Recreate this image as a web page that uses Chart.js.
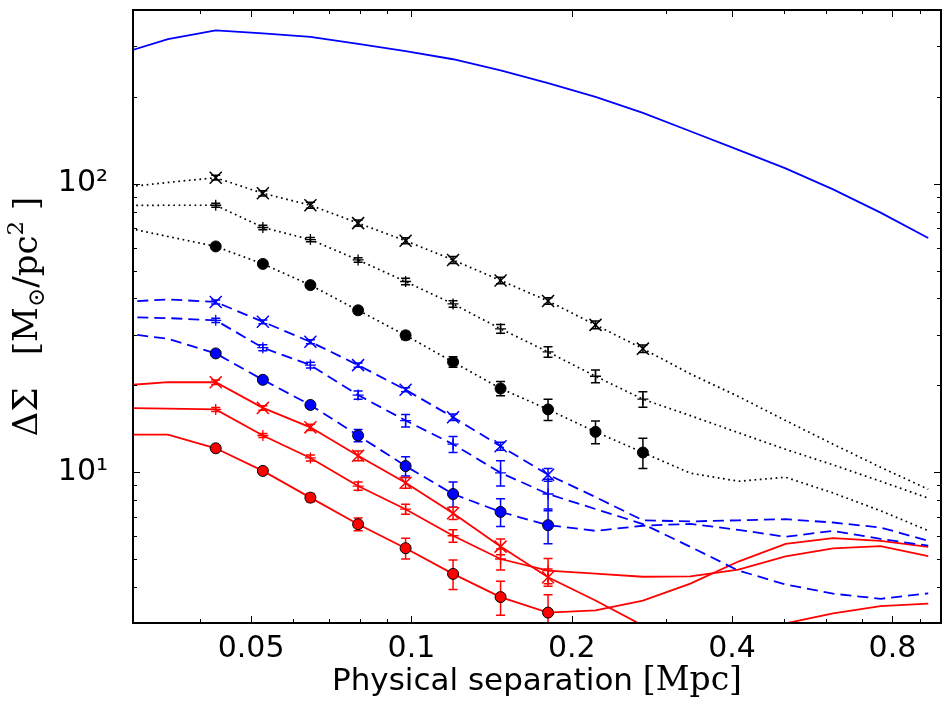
<!DOCTYPE html>
<html>
<head>
<meta charset="utf-8">
<script src="https://cdn.jsdelivr.net/npm/chart.js@4.4.1/dist/chart.umd.min.js"></script>
<style>
  body { margin: 0; background: #fff; }
</style>
</head>
<body>
<canvas id="grafico" width="951" height="702"></canvas>
<script>
// separation grid [Mpc] (model curves); markers sit on points 2..11
const separacao = [0.0284, 0.0349, 0.0429, 0.0526, 0.0646, 0.0794, 0.0975, 0.1197, 0.147, 0.1805,
  0.2216, 0.272, 0.334, 0.411, 0.504, 0.619, 0.760, 0.934];

// Delta Sigma [Msun/pc^2]
const azulTopo   = [282, 317, 340, 332, 323, 305, 288, 270, 247, 223, 200, 176, 152, 131, 113, 95.6, 79.4, 64.8];

const pretoX     = [96.9, 101, 104.9, 92.6, 84.2, 73.0, 63.4, 54.4, 46.2, 39.2, 32.4, 26.8, 21.9, 18.3, 15.1, 12.5, 10.4, 8.73];
const pretoMais  = [84, 84.2, 84.2, 70.5, 64.0, 54.4, 45.8, 38.3, 31.4, 26.1, 21.5, 17.9, 15.7, 13.7, 12.0, 10.6, 9.3, 8.13];
const pretoBola  = [71.1, 65.6, 60.6, 52.7, 44.5, 36.4, 29.8, 24.1, 19.5, 16.5, 13.8, 11.7, 9.92, 9.3, 9.6, 8.47, 7.35, 6.27];

const azulX      = [38.9, 39.7, 38.9, 33.2, 28.3, 23.5, 19.3, 15.5, 12.3, 9.8, 8.2, 6.81, 6.75, 6.81, 6.87, 6.69, 6.43, 5.78];
const azulMais   = [34.5, 34.2, 33.6, 27.0, 23.5, 18.5, 15.1, 12.5, 9.95, 8.4, 7.45, 6.61, 5.51, 4.56, 4.08, 3.79, 3.64, 3.80];
const azulBola   = [30.4, 29.0, 25.8, 20.9, 17.1, 13.4, 10.5, 8.4, 7.28, 6.55, 6.26, 6.52, 6.62, 6.31, 5.97, 6.26, 5.87, 5.56];

const vermX      = [19.95, 20.5, 20.5, 16.7, 14.3, 11.4, 9.19, 7.2, 5.52, 4.32, 3.59, 2.94, 2.6, 2.6, 2.99, 3.24, 3.43, 3.50];
const vermMais   = [16.7, 16.6, 16.5, 13.4, 11.2, 8.95, 7.44, 6.02, 5.0, 4.56, 4.45, 4.34, 4.35, 4.59, 5.11, 5.44, 5.54, 5.12];
const vermBola   = [13.5, 13.5, 12.1, 10.1, 8.16, 6.6, 5.45, 4.44, 3.69, 3.26, 3.32, 3.59, 4.11, 4.90, 5.64, 5.91, 5.78, 5.51];

// error bars on the marker points
const pretoXErr    = [2, 2, 2, 1.8, 1.5, 1.5, 1.2, 1.0, 1.0, 0.8];
const pretoMaisErr = [1.4, 1.2, 1.1, 1.0, 1.2, 1.0, 1.1, 1.1, 1.1, 1.1];
const pretoBolaErr = [1.0, 0.85, 0.8, 0.9, 0.95, 1.0, 1.1, 1.4, 1.25, 1.4];
const azulXErr     = [0.6, 0.5, 0.45, 0.4, 0.3, 0.4, 0.4, 0.5];
const azulMaisErr  = [0.55, 0.65, 0.55, 0.6, 0.75, 0.8, 1.0, 1.05];
const azulBolaErr  = [0.4, 0.35, 0.4, 0.65, 0.8, 0.85, 0.8, 0.9];
const vermXErr     = [0.35, 0.3, 0.35, 0.45, 0.4, 0.35, 0.35, 0.3];
const vermMaisErr  = [0.27, 0.22, 0.27, 0.3, 0.3, 0.3, 0.42, 0.46];
const vermBolaErr  = [0.2, 0.25, 0.27, 0.33, 0.45, 0.52, 0.5, 0.5];

// ticks
const xTicks = [0.05, 0.1, 0.2, 0.4, 0.8];
const xTickLabels = ['0.05', '0.1', '0.2', '0.4', '0.8'];
const xMinor = [0.03, 0.04, 0.06, 0.07, 0.08, 0.09, 0.3, 0.5, 0.6, 0.7, 0.9];
const yTicks = [10, 100];
const yTickLabels = ['10\u00B9', '10\u00B2'];
const yMinor = [4, 5, 6, 7, 8, 9, 20, 30, 40, 50, 60, 70, 80, 90, 200, 300];

const AZUL = '#0000ff', VERM = '#ff0000', PRETO = '#000000';

function pontos(valores, ini, n) {
  const out = [];
  for (let i = ini; i < ini + n; i++) out.push({ x: separacao[i], y: valores[i] });
  return out;
}

function linha(valores, cor, dash, largura) {
  return {
    data: pontos(valores, 0, separacao.length),
    borderColor: cor, borderWidth: largura, borderDash: dash,
    pointRadius: 0, fill: false, tension: 0, order: 2
  };
}

function marcas(valores, n, cor, estilo) {
  const d = {
    data: pontos(valores, 2, n), showLine: false, order: 1,
    pointStyle: estilo, pointHoverRadius: 0
  };
  if (estilo === 'circle') {
    d.pointRadius = 5.5; d.pointBackgroundColor = cor; d.pointBorderColor = '#000'; d.pointBorderWidth = 1;
  } else if (estilo === 'crossRot') {
    d.pointRadius = 8.5; d.pointBorderColor = cor; d.pointBorderWidth = 1.5;
  } else {
    d.pointRadius = 5.5; d.pointBorderColor = cor; d.pointBorderWidth = 1.3;
  }
  return d;
}

const series = [
  { v: pretoX, e: pretoXErr, cor: PRETO, m: 'crossRot' },
  { v: pretoMais, e: pretoMaisErr, cor: PRETO, m: 'cross' },
  { v: pretoBola, e: pretoBolaErr, cor: PRETO, m: 'circle' },
  { v: azulX, e: azulXErr, cor: AZUL, m: 'crossRot' },
  { v: azulMais, e: azulMaisErr, cor: AZUL, m: 'cross' },
  { v: azulBola, e: azulBolaErr, cor: AZUL, m: 'circle' },
  { v: vermX, e: vermXErr, cor: VERM, m: 'crossRot' },
  { v: vermMais, e: vermMaisErr, cor: VERM, m: 'cross' },
  { v: vermBola, e: vermBolaErr, cor: VERM, m: 'circle' }
];

const datasets = [linha(azulTopo, AZUL, [], 1.8)];
series.forEach(s => {
  let dash = [];
  if (s.cor === PRETO) dash = [1.7, 3.6];
  if (s.cor === AZUL) dash = [11, 6];
  datasets.push(linha(s.v, s.cor, dash, s.cor === PRETO ? 1.7 : 1.8));
});
series.forEach(s => datasets.push(marcas(s.v, s.e.length, s.cor, s.m)));

// error bars, under the lines and markers
const errosPlugin = {
  id: 'erros',
  beforeDatasetsDraw(chart) {
    const ctx = chart.ctx, xs = chart.scales.x, ys = chart.scales.y, a = chart.chartArea;
    ctx.save();
    ctx.beginPath();
    ctx.rect(a.left, a.top, a.right - a.left, a.bottom - a.top);
    ctx.clip();
    ctx.lineWidth = 1.5;
    series.forEach(s => {
      ctx.strokeStyle = s.cor;
      s.e.forEach((err, i) => {
        const px = xs.getPixelForValue(separacao[i + 2]);
        const y1 = ys.getPixelForValue(s.v[i + 2] - err);
        const y2 = ys.getPixelForValue(s.v[i + 2] + err);
        ctx.beginPath();
        ctx.moveTo(px, y1); ctx.lineTo(px, y2);
        ctx.moveTo(px - 4.5, y1); ctx.lineTo(px + 4.5, y1);
        ctx.moveTo(px - 4.5, y2); ctx.lineTo(px + 4.5, y2);
        ctx.stroke();
      });
    });
    ctx.restore();
  }
};

// frame, inward ticks on all sides, axis titles
const molduraPlugin = {
  id: 'moldura',
  afterDraw(chart) {
    const ctx = chart.ctx, xs = chart.scales.x, ys = chart.scales.y, a = chart.chartArea;
    ctx.save();
    ctx.strokeStyle = '#000';
    ctx.lineWidth = 1;
    const tickX = (v, len) => {
      const px = Math.round(xs.getPixelForValue(v)) + 0.5;
      ctx.beginPath();
      ctx.moveTo(px, a.bottom); ctx.lineTo(px, a.bottom - len);
      ctx.moveTo(px, a.top); ctx.lineTo(px, a.top + len);
      ctx.stroke();
    };
    const tickY = (v, len) => {
      const py = Math.round(ys.getPixelForValue(v)) + 0.5;
      ctx.beginPath();
      ctx.moveTo(a.left, py); ctx.lineTo(a.left + len, py);
      ctx.moveTo(a.right, py); ctx.lineTo(a.right - len, py);
      ctx.stroke();
    };
    xTicks.forEach(v => tickX(v, 7));
    xMinor.forEach(v => tickX(v, 4));
    yTicks.forEach(v => tickY(v, 7));
    yMinor.forEach(v => tickY(v, 4));
    ctx.lineWidth = 2;
    ctx.strokeRect(a.left, a.top, a.right - a.left, a.bottom - a.top);

    // x title: sans text + serif unit
    ctx.fillStyle = '#000';
    ctx.textBaseline = 'alphabetic';
    ctx.textAlign = 'left';
    const t1 = 'Physical separation ', t2 = '[Mpc]';
    ctx.font = '31px "DejaVu Sans"';
    const w1 = ctx.measureText(t1).width;
    ctx.font = '33px "DejaVu Serif"';
    const w2 = ctx.measureText(t2).width;
    const x0 = (a.left + a.right) / 2 - (w1 + w2) / 2;
    ctx.font = '31px "DejaVu Sans"';
    ctx.fillText(t1, x0, 690);
    ctx.font = '33px "DejaVu Serif"';
    ctx.fillText(t2, x0 + w1, 690);

    // y title, rotated, in pieces for sub/superscript
    const partes = [
      { t: '\u0394\u03A3   [M', f: 34, dy: 0 },
      { t: '\u2299', f: 23, dy: 7 },
      { t: '/pc', f: 34, dy: 0 },
      { t: '2', f: 23, dy: -14 },
      { t: ' ]', f: 34, dy: 0 }
    ];
    let total = 0;
    partes.forEach(p => { ctx.font = p.f + 'px "DejaVu Serif"'; p.w = ctx.measureText(p.t).width; total += p.w; });
    ctx.translate(37, (a.top + a.bottom) / 2);
    ctx.rotate(-Math.PI / 2);
    let cx = -total / 2;
    partes.forEach(p => {
      ctx.font = p.f + 'px "DejaVu Serif"';
      ctx.fillText(p.t, cx, p.dy);
      cx += p.w;
    });
    ctx.restore();
  }
};

const ctx = document.getElementById('grafico').getContext('2d');
const grafico = new Chart(ctx, {
  type: 'line',
  data: { datasets: datasets },
  options: {
    responsive: false,
    animation: false,
    layout: { padding: { top: 5, right: 1, left: 0, bottom: 0 } },
    plugins: { legend: { display: false }, tooltip: { enabled: false } },
    scales: {
      x: {
        type: 'logarithmic', min: 0.03, max: 0.987,
        grid: { display: false, drawTicks: false },
        border: { display: false },
        afterBuildTicks: s => { s.ticks = xTicks.map(v => ({ value: v })); },
        afterFit: s => { s.height = 79; s.paddingLeft = 0; s.paddingRight = 0; },
        ticks: {
          autoSkip: false, maxRotation: 0, padding: 8, color: '#000',
          font: { family: 'DejaVu Sans', size: 30 },
          callback: (v, i) => xTickLabels[i]
        }
      },
      y: {
        type: 'logarithmic', min: 3, max: 400,
        grid: { display: false, drawTicks: false },
        border: { display: false },
        afterBuildTicks: s => { s.ticks = yTicks.map(v => ({ value: v })); },
        afterFit: s => { s.width = 133; s.paddingTop = 0; s.paddingBottom = 0; },
        ticks: {
          autoSkip: false, padding: 25, color: '#000',
          font: { family: 'DejaVu Sans', size: 30 },
          callback: (v, i) => yTickLabels[i]
        }
      }
    }
  },
  plugins: [errosPlugin, molduraPlugin]
});
</script>
</body>
</html>
